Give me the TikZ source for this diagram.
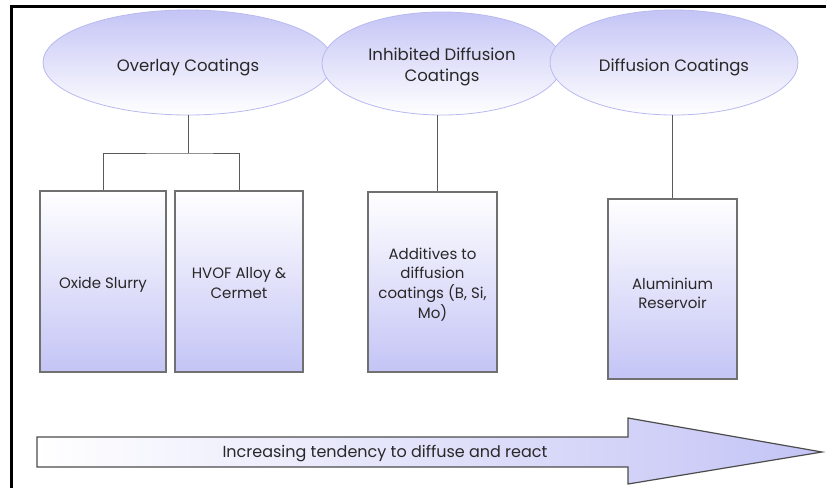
\documentclass[tikz,border=0pt]{standalone}
\usepackage{fontspec}
\setmainfont{Poppins}
\usetikzlibrary{shapes.geometric}
\definecolor{lav}{RGB}{196,196,246}
\definecolor{lavline}{RGB}{185,185,240}
\definecolor{boxline}{RGB}{112,112,112}
\definecolor{txt}{RGB}{40,40,40}
\newcommand{\dropby}[2]{\raisebox{-#1}[\height][\depth]{#2}}
\tikzset{
  oval/.style={ellipse, draw=lavline, line width=0.8pt, top color=lav, bottom color=white,
    inner sep=0pt, text=txt, align=center, font=\fontsize{16.5}{21.5}\selectfont},
  tallbox/.style={rectangle, draw=boxline, line width=1.2pt, top color=white, bottom color=lav,
    inner sep=0pt, text=txt, align=center, font=\fontsize{15}{19.5}\selectfont},
  link/.style={draw=boxline!80!black, line width=1pt},
}
\begin{document}
\begin{tikzpicture}[x=1pt,y=-1pt]
\useasboundingbox (0,0) rectangle (826,488);
\fill[white] (0,0) rectangle (826,488);
% frame
\draw[line width=3.4pt] (11.7,488) -- (11.7,6.7) -- (826,6.7);
% ellipses
\node[oval, minimum width=290pt, minimum height=105pt] (e1) at (188,62.5) {\dropby{5pt}{Overlay Coatings}};
\node[oval, minimum width=240pt, minimum height=103pt] (e2) at (442,63.5) {\dropby{3pt}{\begin{tabular}{@{}c@{}}Inhibited Diffusion\\Coatings\end{tabular}}};
\node[oval, minimum width=248pt, minimum height=105pt] (e3) at (674,62.5) {\dropby{5pt}{Diffusion Coatings}};
% boxes
\node[tallbox, minimum width=126pt, minimum height=181pt] (b1) at (103,281.5) {\dropby{3pt}{Oxide Slurry}};
\node[tallbox, minimum width=128pt, minimum height=181pt] (b2) at (239,281.5) {\dropby{3pt}{\begin{tabular}{@{}c@{}}HVOF Alloy \&\\Cermet\end{tabular}}};
\node[tallbox, minimum width=129pt, minimum height=180pt] (b3) at (432.5,282) {\dropby{3pt}{\begin{tabular}{@{}c@{}}Additives to\\diffusion\\coatings (B, Si,\\Mo)\end{tabular}}};
\node[tallbox, minimum width=129pt, minimum height=180pt] (b4) at (672.5,289) {\dropby{6pt}{\begin{tabular}{@{}c@{}}Aluminium\\Reservoir\end{tabular}}};
% connectors
\coordinate (j1) at (188,153);
\draw[link] (e1.south) -- (j1);
\draw[link] (b1.north) |- (j1) -| (b2.north);
\draw[link] ([xshift=-5pt]e2.south) -- ([xshift=-5pt]e2.south |- b3.north);
\draw[link] (e3.south -| b4.north) -- (b4.north);
% big arrow
\draw[draw=black!70, line width=1.2pt, left color=white, right color=lav]
  (37,437) -- (628,437) -- (628,418) -- (822,452) -- (628,484) -- (628,467) -- (37,467) -- cycle;
\node[text=txt, font=\fontsize{16}{18}\selectfont] (lab) at (385,452) {\dropby{2pt}{Increasing tendency to diffuse and react}};
\end{tikzpicture}
\end{document}
